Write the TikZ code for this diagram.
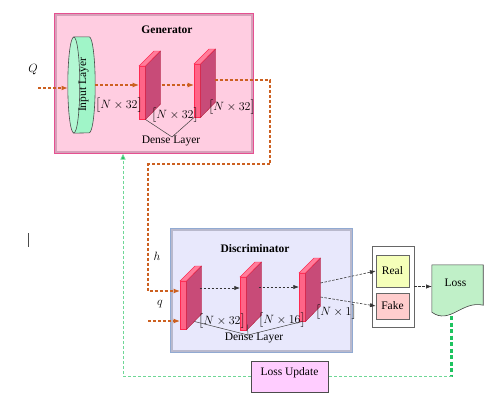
\documentclass[tikz,border=0pt]{standalone}
\usepackage{amsmath}
\usepackage{fontspec}
\setmainfont{Liberation Serif}
\usetikzlibrary{calc, positioning, arrows.meta}
\definecolor{ganorange}{RGB}{204,96,32}
\definecolor{gangreen}{RGB}{30,195,95}
\definecolor{ganlightgreen}{RGB}{110,215,150}
\definecolor{genpink}{RGB}{255,205,225}
\definecolor{genedge}{RGB}{230,80,145}
\definecolor{genshade}{RGB}{215,160,185}
\definecolor{discfill}{RGB}{232,232,252}
\definecolor{discedge}{RGB}{145,170,210}
\definecolor{discshade}{RGB}{185,185,205}
\definecolor{slabfront}{RGB}{255,100,135}
\definecolor{slabside}{RGB}{200,75,120}
\definecolor{slabtop}{RGB}{255,125,155}
\definecolor{slabedge}{RGB}{255,40,80}
\definecolor{inputmint}{RGB}{160,245,200}
\definecolor{realyellow}{RGB}{245,255,185}
\definecolor{fakepink}{RGB}{255,205,205}
\definecolor{lossgreen}{RGB}{192,240,200}
\definecolor{updmagenta}{RGB}{255,205,255}
\tikzset{
    lbl/.style={font=\fontsize{11.5}{13.8}\selectfont, inner sep=1pt},
    title/.style={font=\bfseries\fontsize{11.5}{13.8}\selectfont},
    genbox/.style={draw=genedge, line width=0.9pt, fill=genpink, anchor=north west, inner sep=0pt, minimum width=199pt, minimum height=140pt},
    discbox/.style={draw=discedge, line width=0.9pt, fill=discfill, anchor=north west, inner sep=0pt, minimum width=182pt, minimum height=124pt},
    slab/.style={draw=slabedge, line width=0.5pt, fill=slabfront, anchor=north west, inner sep=0pt, minimum width=6pt},
    plainbox/.style={draw=black!70, line width=0.6pt, inner sep=0pt, align=center},
    genarrow/.style={-{Latex[length=2.2mm, width=1.7mm]}, draw=ganorange, line width=1.1pt, dash pattern=on 3pt off 2pt},
    discarrow/.style={-{Latex[length=2mm, width=1.5mm]}, draw=black!80, line width=0.6pt, dash pattern=on 2.5pt off 1.5pt},
    updline/.style={draw=ganlightgreen, line width=0.8pt, dash pattern=on 3pt off 2pt},
    lossdrop/.style={draw=gangreen, line width=2.2pt, dash pattern=on 4pt off 2.5pt}
}
% one dense layer drawn as a thin 3D slab: name, x, y (front top left), height
\newcommand{\denseslab}[4]{%
    \node[slab, minimum height=#4pt] (#1) at (#2,#3) {};
    \filldraw[draw=slabedge!70!black, fill=slabside, line width=0.4pt] (#1.north east) -- ++(15,-15) -- ++(0,#4) -- (#1.south east) -- cycle;
    \filldraw[draw=slabedge, fill=slabtop, line width=0.4pt] (#1.north west) -- ++(15,-15) -- ++(6,0) -- (#1.north east) -- cycle;
}

\begin{document}
\begin{tikzpicture}[x=1pt,y=-1pt]
            \useasboundingbox (0,0) rectangle (504,402);

            % Generator block
            \node[genbox] (gen) at (54,13) {};
            \draw[genshade, line width=2.2pt] ($(gen.north west)+(1.8,1.8)$) rectangle ($(gen.south east)+(-1.8,-1.8)$);
            \node[title] (gentitle) at (167,30) {Generator};

            % Input layer (cylinder)
            \node[minimum width=27pt, minimum height=96pt, inner sep=0pt] (inp) at (81.5,85) {};
            \filldraw[draw=black!70, fill=inputmint, line width=0.6pt] ($(inp.north west)+(6,0)$) -- ($(inp.north east)+(-6,0)$) arc[start angle=-90, end angle=90, x radius=6, y radius=48] -- ($(inp.south west)+(6,0)$) -- cycle;
            \filldraw[draw=black!70, fill=inputmint!80!white, line width=0.6pt] ($(inp.west)+(6,0)$) ellipse[x radius=6, y radius=48];
            \node[lbl, rotate=90] (inptxt) at ($(inp.center)+(2,0)$) {Input Layer};

            % Generator dense layers
            \denseslab{gd1}{139}{66}{53}
            \denseslab{gd2}{194}{64}{53}
            \node[lbl] (gl1) at (119,105) {$\big[N\times 32\big]$};
            \node[lbl] (gl2) at (175,115) {$\big[N\times 32\big]$};
            \node[lbl] (gl3) at (232,107) {$\big[N\times 32\big]$};
            \node[lbl] (gdl) at (171,141) {Dense Layer};
            \coordinate (gdlhub) at (172,137);
            \draw[black!75, line width=0.5pt] (gd1.south east) -- (gdlhub) -- (gd2.south west);

            % Discriminator block
            \node[discbox] (disc) at (170,228) {};
            \draw[discshade, line width=2.2pt] ($(disc.north west)+(1.8,1.8)$) rectangle ($(disc.south east)+(-1.8,-1.8)$);
            \node[title] (disctitle) at (255,249) {Discriminator};

            % Discriminator dense layers
            \denseslab{dd1}{180}{281}{48}
            \denseslab{dd2}{240}{277}{53}
            \denseslab{dd3}{299}{273}{48}
            \node[lbl] (dl1) at (222,321) {$\big[N\times 32\big]$};
            \node[lbl] (dl2) at (282,320) {$\big[N\times 16\big]$};
            \node[lbl] (dl3) at (336,312) {$\big[N\times 1\big]$};
            \node[lbl] (ddl) at (254,338) {Dense Layer};
            \coordinate (ddlhub) at (248,335);
            \draw[black!75, line width=0.5pt] ($(dd1.south east)+(8,-8)$) -- (ddlhub) -- (dd3.south);
            \draw[black!75, line width=0.5pt] ($(dd2.south)+(4,-6)$) -- (ddlhub);

            % Outputs
            \node[plainbox, draw=black!60, fill=white, minimum width=42pt, minimum height=81pt] (rf) at (393,286.5) {};
            \node[plainbox, draw=black!60, fill=realyellow, minimum width=33pt, minimum height=32pt, lbl] (real) at (392.5,271) {Real};
            \node[plainbox, draw=black!60, fill=fakepink, minimum width=33pt, minimum height=26pt, lbl] (fake) at (392.5,306) {Fake};

            % Loss (document shape)
            \node[minimum width=51pt, minimum height=47pt, inner sep=0pt] (loss) at (457.5,288.5) {};
            \filldraw[draw=black!75, fill=lossgreen, line width=0.6pt] (loss.south west) -- (loss.north west) -- (loss.north east) -- ($(loss.south east)+(0,-7)$) .. controls +(-21,-5) and +(18,13) .. (loss.south west) -- cycle;
            \node[lbl] (losstxt) at ($(loss.center)+(-2,-6)$) {Loss};

            \node[plainbox, fill=updmagenta, minimum width=77pt, minimum height=31pt, lbl, text depth=10pt] (upd) at (289.5,376.5) {Loss Update};

            % Inputs
            \node[lbl] (Qlbl) at (33,70) {$Q$};
            \node[lbl] (hlbl) at (157,256) {$h$};
            \node[lbl] (qlbl) at (160,304) {$q$};
            \coordinate (Qsrc) at (38,88);
            \coordinate (qsrc) at (148,321);
            \coordinate (hin) at ($(dd1.north west)+(0,10)$);

            % Generator forward passes
            \draw[genarrow] (Qsrc) -- (Qsrc -| inp.west);
            \draw[genarrow] (inp.east) -- (inp.east -| gd1.west);
            \draw[genarrow] ($(inp.east -| gd1.east)+(16,0)$) -- (inp.east -| gd2.west);

            % Generated sample to the discriminator
            \coordinate (genout) at ($(gd2.north east)+(14,16)$);
            \coordinate (busR) at (270,164);
            \coordinate (busL) at (148,164);
            \draw[genarrow] (genout) -| (busR) -- (busL) |- (hin);
            \draw[genarrow] (qsrc) -- (qsrc -| dd1.west);

            % Discriminator forward passes
            \coordinate (d1out) at ($(dd1.north east)+(13,7)$);
            \coordinate (d2out) at ($(dd2.north east)+(12,10)$);
            \draw[discarrow] (d1out) -- (d1out -| dd2.west);
            \draw[discarrow] (d2out) -- (d2out -| dd3.west);
            \draw[discarrow] ($(dd3.north east)+(15,10)$) -- (real.west);
            \draw[discarrow] ($(dd3.north east)+(15,24)$) -- (fake.west);
            \draw[discarrow] (rf.east) -- (rf.east -| loss.west);

            % Loss update back to the generator
            \coordinate (lossbot) at ($(loss.south)+(-6,4)$);
            \coordinate (genin) at ($(gen.south west)+(69,0)$);
            \draw[lossdrop] (lossbot) -- (lossbot |- upd.east);
            \draw[updline] (lossbot |- upd.east) -- (upd.east);
            \draw[updline, -{Triangle[length=2mm, width=1.8mm, fill=gangreen]}] (upd.west) -| (genin);

            % stray mark
            \draw[black!70, line width=0.6pt] (28,233) -- (28,247);
        \end{tikzpicture}
\end{document}
